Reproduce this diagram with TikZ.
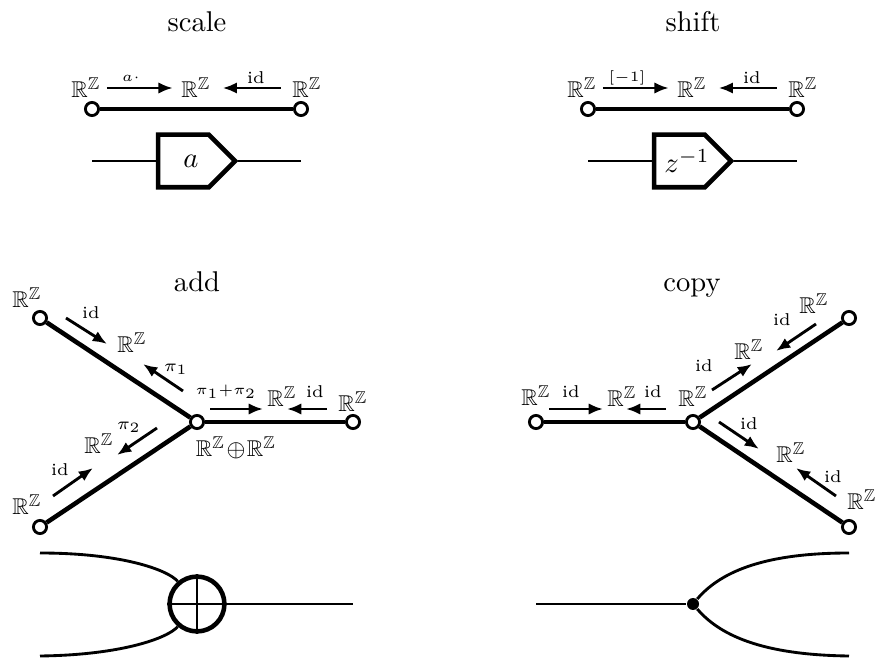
\documentclass[tikz,border=0pt]{standalone}
\usepackage{amsmath}
\usepackage{amssymb}
\usetikzlibrary{arrows.meta,shapes.symbols}

\newcommand{\RZ}{\mathbb{R}^{\mathbb{Z}}}

\tikzset{
    port/.style={circle,draw,fill=white,line width=1pt,minimum size=4.6pt,inner sep=0pt},
    space/.style={inner sep=0pt,font=\fontsize{8}{9}\selectfont},
    maplab/.style={inner sep=0pt,font=\fontsize{6}{7}\selectfont},
    mapto/.style={-{Latex[length=5pt,width=4pt]},line width=1pt},
    edge/.style={line width=1.6pt},
    wire/.style={line width=1pt}
}

\begin{document}
\begin{tikzpicture}[x=0.35pt,y=-0.35pt]
        \useasboundingbox (0,0) rectangle (878,660);
        % scale and shift
        \foreach \pre/\dx/\title/\tag/\gain in {S/0/scale/a\cdot/a,T/496/shift/{[-1]}/{z^{-1}}}{
            \begin{scope}[shift={(\dx,0)}]
                \node[anchor=base] (\pre title) at (197,32) {\title};
                \node[space] (\pre l) at (86,88) {$\RZ$};
                \node[space] (\pre m) at (196,88) {$\RZ$};
                \node[space] (\pre r) at (307,88) {$\RZ$};
                \node[maplab] (\pre ll) at (131,78) {$\scriptscriptstyle\tag$};
                \node[maplab] (\pre rl) at (256,78) {id};
                \draw[mapto,shorten <=2pt,shorten >=2.8pt] (\pre l) -- (\pre m);
                \draw[mapto,shorten <=3.9pt,shorten >=4pt] (\pre r) -- (\pre m);
                \node[port] (\pre a) at (92,109) {};
                \node[port] (\pre b) at (301,109) {};
                \draw[edge] (\pre a) -- (\pre b);
                % block with its two wires
                \node[signal,signal to=east,signal pointer angle=90,draw,edge,minimum width=27pt,minimum height=18.4pt,inner sep=0pt] (\pre box) at (183.5,161) {};
                \node (\pre gain) at (191,161) {$\gain$};
                \coordinate (\pre in) at (92,161);
                \coordinate (\pre out) at (301,161);
                \draw[wire] (\pre in) -- (\pre box.west);
                \draw[wire] (\pre box.east) -- (\pre out);
            \end{scope}
        }
        % add
        \node[anchor=base] (Atitle) at (197,292) {add};
        \node[port] (Ahub) at (197,422) {};
        \node[port] (Aa) at (40,318) {};
        \node[port] (Ab) at (40,527) {};
        \node[port] (Ac) at (353,422) {};
        \draw[edge] (Aa) -- (Ahub);
        \draw[edge] (Ab) -- (Ahub);
        \draw[edge] (Ac) -- (Ahub);
        \foreach \n/\x/\y in {s1/27/298,s2/132/343,s3/282/397,s4/353/402,s5/99/444,s6/27/505}
            \node[space] (A\n) at (\x,\y) {$\RZ$};
        \node[space] (Asum) at (236,448) {$\RZ\mkern-3mu\oplus\mkern-3mu\RZ$};
        \foreach \n/\x/\y/\t in {l1/91/313/id,l2/176/369/$\pi_1$,l4/315/392/id,l5/129/427/$\pi_2$,l6/60/470/id}
            \node[maplab] (A\n) at (\x,\y) {\t};
        \node[maplab,font=\fontsize{5.5}{6}\selectfont] (Al3) at (226,392) {$\pi_1{+}\pi_2$};
        \foreach \n/\xa/\ya/\xb/\yb in {1/66/318/107/344,2/183/391/143/364,3/210/409/263/409,4/327/409/287/409,5/157/428/117/455,6/53/496/93/468}{
            \coordinate (Af\n) at (\xa,\ya);
            \coordinate (At\n) at (\xb,\yb);
            \draw[mapto] (Af\n) -- (At\n);
        }
        % copy
        \node[anchor=base] (Ctitle) at (692,292) {copy};
        \node[port] (Chub) at (693,422) {};
        \node[port] (Ca) at (536,422) {};
        \node[port] (Cb) at (849,318) {};
        \node[port] (Cc) at (849,527) {};
        \draw[edge] (Ca) -- (Chub);
        \draw[edge] (Cb) -- (Chub);
        \draw[edge] (Cc) -- (Chub);
        \foreach \n/\x/\y in {s1/536/396,s2/622/397,s3/693/397,s4/749/350,s5/814/304,s6/791/453,s7/862/500}
            \node[space] (C\n) at (\x,\y) {$\RZ$};
        \foreach \n/\x/\y in {l1/571/392,l2/653/392,l3/704/366,l4/782/320,l5/749/424,l6/833/477}
            \node[maplab] (C\n) at (\x,\y) {id};
        \foreach \n/\xa/\ya/\xb/\yb in {1/549/409/603/409,2/666/409/626/409,3/712/390/752/364,4/816/324/776/351,5/719/422/759/449,6/836/496/796/468}{
            \coordinate (Cf\n) at (\xa,\ya);
            \coordinate (Ct\n) at (\xb,\yb);
            \draw[mapto] (Cf\n) -- (Ct\n);
        }
        % string diagrams along the bottom
        \coordinate (pa) at (40,553);
        \coordinate (pb) at (40,656);
        \coordinate (pc) at (353,604);
        \node[circle,draw,edge,minimum size=19.2pt,inner sep=0pt] (plus) at (197,604) {};
        \draw[wire] (pa) .. controls (122,553) and (168,570) .. (plus);
        \draw[wire] (pb) .. controls (122,655) and (168,638) .. (plus);
        \draw[wire] (plus.east) -- (pc);
        \draw[wire] (plus.north) -- (plus.south);
        \draw[wire] (plus.west) -- (plus.east);
        \node[circle,fill=black,minimum size=4.2pt,inner sep=0pt] (dot) at (693,604) {};
        \coordinate (da) at (536,604);
        \coordinate (db) at (849,553);
        \coordinate (dc) at (849,656);
        \draw[wire] (da) -- (dot);
        \draw[wire] (dot) .. controls (722,570) and (768,553) .. (db);
        \draw[wire] (dot) .. controls (722,638) and (768,655) .. (dc);
    \end{tikzpicture}
\end{document}
